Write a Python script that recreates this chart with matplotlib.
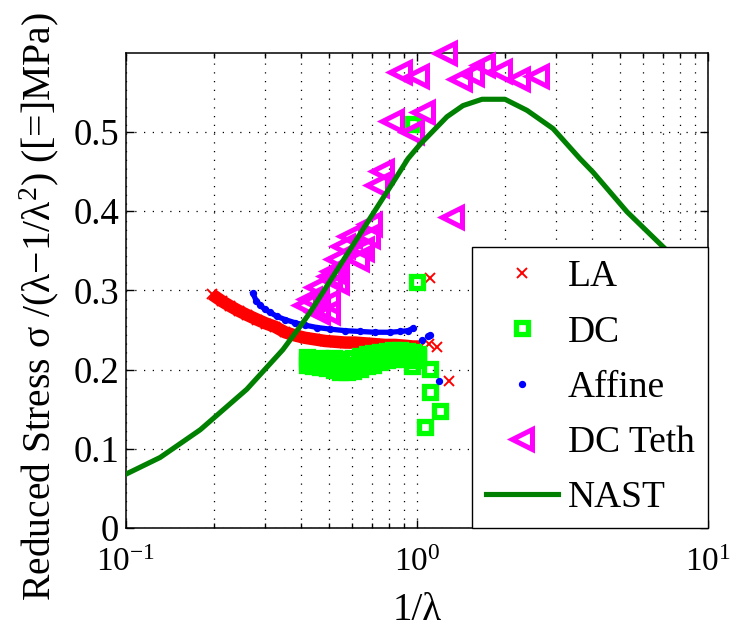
import matplotlib.pyplot as plt
from matplotlib.ticker import LogLocator, NullFormatter

plt.rcParams['font.family'] = ['Liberation Serif', 'DejaVu Serif']
plt.rcParams['mathtext.fontset'] = 'custom'
plt.rcParams['mathtext.rm'] = 'Liberation Serif'
plt.rcParams['mathtext.it'] = 'Liberation Serif:italic'

# LA: dense band of crosses plus a few stray points
la_x = [0.197, 0.214, 0.228, 0.244, 0.260, 0.282, 0.303, 0.325, 0.352, 0.381,
        0.412, 0.446, 0.483, 0.523, 0.566, 0.612, 0.663, 0.717, 0.776, 0.840,
        0.909, 0.969, 1.024, 1.10, 1.108, 1.17, 1.29]
la_y = [0.295, 0.286, 0.280, 0.274, 0.269, 0.263, 0.258, 0.254, 0.247, 0.243,
        0.240, 0.238, 0.236, 0.235, 0.234, 0.234, 0.233, 0.232, 0.231, 0.231,
        0.230, 0.229, 0.229, 0.232, 0.316, 0.229, 0.186]
la_band = 23  # first points form the continuous band

# DC: cluster of squares (three rows per column) plus outliers
dc_x = [0.419, 0.419, 0.419, 0.439, 0.439, 0.439, 0.464, 0.464, 0.464,
        0.491, 0.491, 0.491, 0.519, 0.519, 0.519, 0.544, 0.544, 0.544,
        0.575, 0.575, 0.575, 0.603, 0.603, 0.603, 0.637, 0.637, 0.637,
        0.673, 0.673, 0.673, 0.706, 0.706, 0.706, 0.746, 0.746, 0.746,
        0.789, 0.789, 0.789, 0.827, 0.827, 0.827, 0.874, 0.874, 0.874,
        0.924, 0.924, 0.924, 0.969, 0.969, 0.969, 1.008, 1.008, 1.008,
        0.962, 1.107, 1.107, 1.20, 1.065, 1.0, 0.969]
dc_y = [0.216, 0.211, 0.206, 0.213, 0.208, 0.204, 0.214, 0.208, 0.203,
        0.213, 0.207, 0.202, 0.215, 0.207, 0.199, 0.212, 0.204, 0.197,
        0.213, 0.205, 0.197, 0.215, 0.206, 0.198, 0.217, 0.209, 0.201,
        0.219, 0.211, 0.204, 0.221, 0.213, 0.206, 0.222, 0.216, 0.210,
        0.223, 0.217, 0.212, 0.224, 0.218, 0.213, 0.224, 0.219, 0.214,
        0.223, 0.218, 0.213, 0.222, 0.217, 0.212, 0.219, 0.216, 0.214,
        0.204, 0.201, 0.171, 0.148, 0.128, 0.311, 0.510]

# Affine: continuous curve of dots plus a few stray points
af_x = [0.273, 0.280, 0.289, 0.300, 0.313, 0.330, 0.352, 0.381, 0.412, 0.453,
        0.502, 0.566, 0.637, 0.717, 0.808, 0.874, 0.931, 0.969,
        1.04, 1.09, 1.11, 1.19]
af_y = [0.296, 0.287, 0.281, 0.276, 0.272, 0.267, 0.263, 0.259, 0.256, 0.253,
        0.251, 0.249, 0.248, 0.247, 0.247, 0.248, 0.249, 0.252,
        0.237, 0.242, 0.243, 0.185]
af_band = 18

# DC Teth: triangles
teth_x = [1.248, 0.874, 1.0, 1.41, 1.545, 1.686, 1.928, 2.22, 2.58, 1.048,
          0.821, 0.961, 0.759, 0.729, 1.318, 0.690, 0.680, 0.588, 0.647, 0.622,
          0.558, 0.531, 0.516, 0.502, 0.531, 0.454, 0.429, 0.412, 0.494, 0.494,
          0.457]
teth_y = [0.599, 0.576, 0.570, 0.567, 0.573, 0.584, 0.577, 0.567, 0.570, 0.525,
          0.513, 0.500, 0.451, 0.433, 0.392, 0.384, 0.368, 0.368, 0.352, 0.339,
          0.356, 0.339, 0.324, 0.318, 0.311, 0.304, 0.289, 0.282, 0.285, 0.272,
          0.273]

# NAST model curve
nast_x = [0.1, 0.131, 0.180, 0.260, 0.346, 0.396, 0.429, 0.622, 0.663, 0.827,
          0.931, 1.024, 1.268, 1.439, 1.673, 2.006, 2.388, 2.934, 3.632, 4.026,
          5.268, 6.733, 10.0]
nast_y = [0.068, 0.089, 0.124, 0.175, 0.225, 0.254, 0.272, 0.365, 0.381, 0.436,
          0.466, 0.484, 0.519, 0.533, 0.541, 0.541, 0.527, 0.504, 0.466, 0.449,
          0.399, 0.361, 0.300]

yticks = [0, 0.1, 0.2, 0.3, 0.4, 0.5]
ytick_labels = ['0', '0.1', '0.2', '0.3', '0.4', '0.5']

fig = plt.figure(figsize=(7.33, 6.38), dpi=100)
ax = fig.add_axes([0.1719, 0.1724, 0.794, 0.7453])

ax.plot(la_x[:la_band], la_y[:la_band], '-', color='red', lw=9,
        solid_capstyle='butt', zorder=2)
h_la, = ax.plot(la_x, la_y, 'x', color='red', ms=7.5, mew=1.4, ls='none',
                label='LA', zorder=2)
h_dc, = ax.plot(dc_x, dc_y, 's', color='#00ff00', mfc='none', ms=8.5, mew=3.8,
                ls='none', label='DC', zorder=3)
ax.plot(af_x[:af_band], af_y[:af_band], '-', color='blue', lw=3.8, zorder=4)
h_af, = ax.plot(af_x, af_y, '.', color='blue', ms=8.5, ls='none',
                label='Affine', zorder=4)
h_te, = ax.plot(teth_x, teth_y, '<', color='magenta', mfc='none', ms=14,
                mew=3.6, ls='none', label='DC Teth', zorder=5, clip_on=False)
h_na, = ax.plot(nast_x, nast_y, '-', color='#008000', lw=3.7,
                label='NAST', zorder=6)

ax.set_xscale('log')
ax.set_xlim(0.1, 10)
ax.set_ylim(0, 0.6)
ax.set_yticks(yticks)
ax.set_yticklabels(ytick_labels)
ax.xaxis.set_minor_locator(LogLocator(base=10, subs=range(2, 10)))
ax.xaxis.set_minor_formatter(NullFormatter())

ax.tick_params(which='both', direction='in', top=True, right=True, width=1)
ax.tick_params(which='major', length=6)
ax.tick_params(which='minor', length=3.5)
ax.tick_params(axis='x', labelsize=24, pad=14)
ax.tick_params(axis='y', labelsize=26.5, pad=5)
for sp in ax.spines.values():
    sp.set_linewidth(1.1)

dots = (0, (1, 6))
ax.grid(True, which='major', axis='y', color='black', ls=dots, lw=0.9)
ax.grid(True, which='both', axis='x', color='black', ls=dots, lw=0.9)

ax.set_xlabel('1/λ', fontsize=28, labelpad=10)
ax.set_ylabel('Reduced Stress σ /(λ−1/λ$^2$) ([=]MPa)', fontsize=28.5)
ax.yaxis.set_label_coords(-0.112, 0.465)

leg = ax.legend(handles=[h_la, h_dc, h_af, h_te, h_na], loc='lower right',
                bbox_to_anchor=(1, 0), borderaxespad=0.0, fontsize=27,
                frameon=True, fancybox=False, edgecolor='black',
                framealpha=1, numpoints=1, handlelength=1.92,
                handletextpad=0.28, borderpad=0.35, labelspacing=0.55)
leg.get_frame().set_linewidth(1.0)
leg.set_zorder(10)

fig.savefig('out.png', dpi=100)
plt.close(fig)
